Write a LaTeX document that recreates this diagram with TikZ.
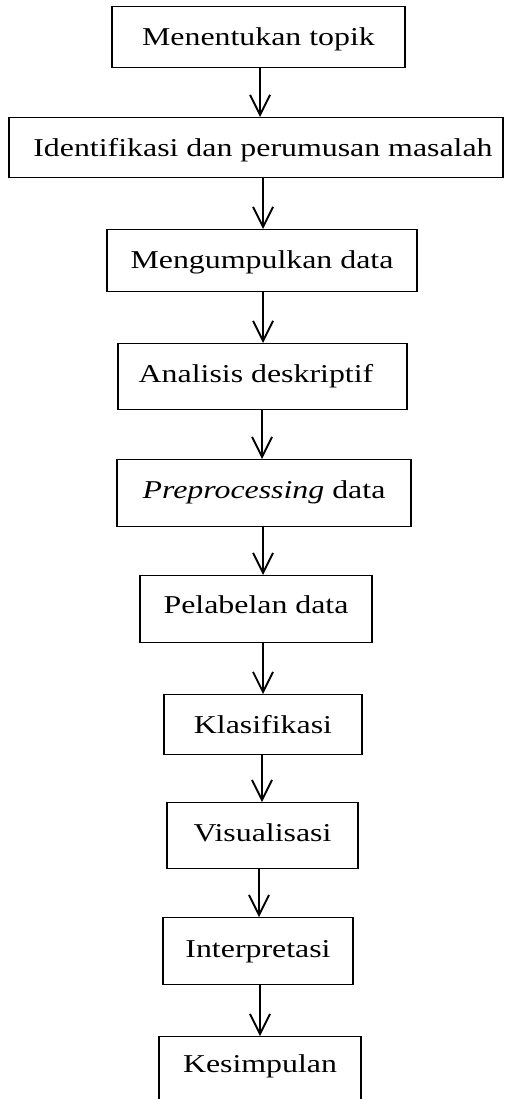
\documentclass[tikz,border=0pt]{standalone}
\usepackage{fontspec}
\setmainfont{Liberation Serif}[FakeStretch=1.24]
\usetikzlibrary{arrows.meta}
\begin{document}
\begin{tikzpicture}[x=1pt,y=-1pt,
  stepbox/.style={draw, line width=1.3pt, inner sep=0pt, anchor=north,
    font=\fontsize{25.7}{30}\selectfont},
  flow/.style={line width=1.9pt, -{Straight Barb[length=20pt,width=20pt,line width=1.9pt]}}]
\useasboundingbox (0,0) rectangle (504,1099);

% process steps
\node[stepbox, minimum width=293, text height=39, text depth=22] (b1) at (258.5,6) {Menentukan topik};
\node[stepbox, minimum width=494, text height=39, text depth=21] (b2) at (256,117) {\hspace*{14pt}Identifikasi dan perumusan masalah};
\node[stepbox, minimum width=310, text height=39, text depth=23] (b3) at (262,229) {Mengumpulkan data};
\node[stepbox, minimum width=289, text height=39, text depth=27] (b4) at (262.5,343) {Analisis deskriptif\hspace*{13pt}};
\node[stepbox, minimum width=294, text height=39, text depth=28] (b5) at (264,459) {\textit{Preprocessing} data};
\node[stepbox, minimum width=232, text height=38, text depth=29] (b6) at (256,575) {Pelabelan data};
\node[stepbox, minimum width=198, text height=39, text depth=21] (b7) at (263,694) {Klasifikasi};
\node[stepbox, minimum width=191, text height=39, text depth=27] (b8) at (262.5,802) {Visualisasi};
\node[stepbox, minimum width=190, text height=40, text depth=27] (b9) at (258,917) {Interpretasi};
\node[stepbox, minimum width=202, text height=36, text depth=30] (b10) at (260,1036) {Kesimpulan};

% arrow columns
\coordinate (a1) at (260,0);
\coordinate (a2) at (263,0);
\coordinate (a3) at (263,0);
\coordinate (a4) at (262,0);
\coordinate (a5) at (263,0);
\coordinate (a6) at (263,0);
\coordinate (a7) at (262,0);
\coordinate (a8) at (259,0);
\coordinate (a9) at (260,0);

\draw[flow] (b1.south -| a1) -- (b2.north -| a1);
\draw[flow] (b2.south -| a2) -- (b3.north -| a2);
\draw[flow] (b3.south -| a3) -- (b4.north -| a3);
\draw[flow] (b4.south -| a4) -- (b5.north -| a4);
\draw[flow] (b5.south -| a5) -- (b6.north -| a5);
\draw[flow] (b6.south -| a6) -- (b7.north -| a6);
\draw[flow] (b7.south -| a7) -- (b8.north -| a7);
\draw[flow] (b8.south -| a8) -- (b9.north -| a8);
\draw[flow] (b9.south -| a9) -- (b10.north -| a9);
\end{tikzpicture}
\end{document}
